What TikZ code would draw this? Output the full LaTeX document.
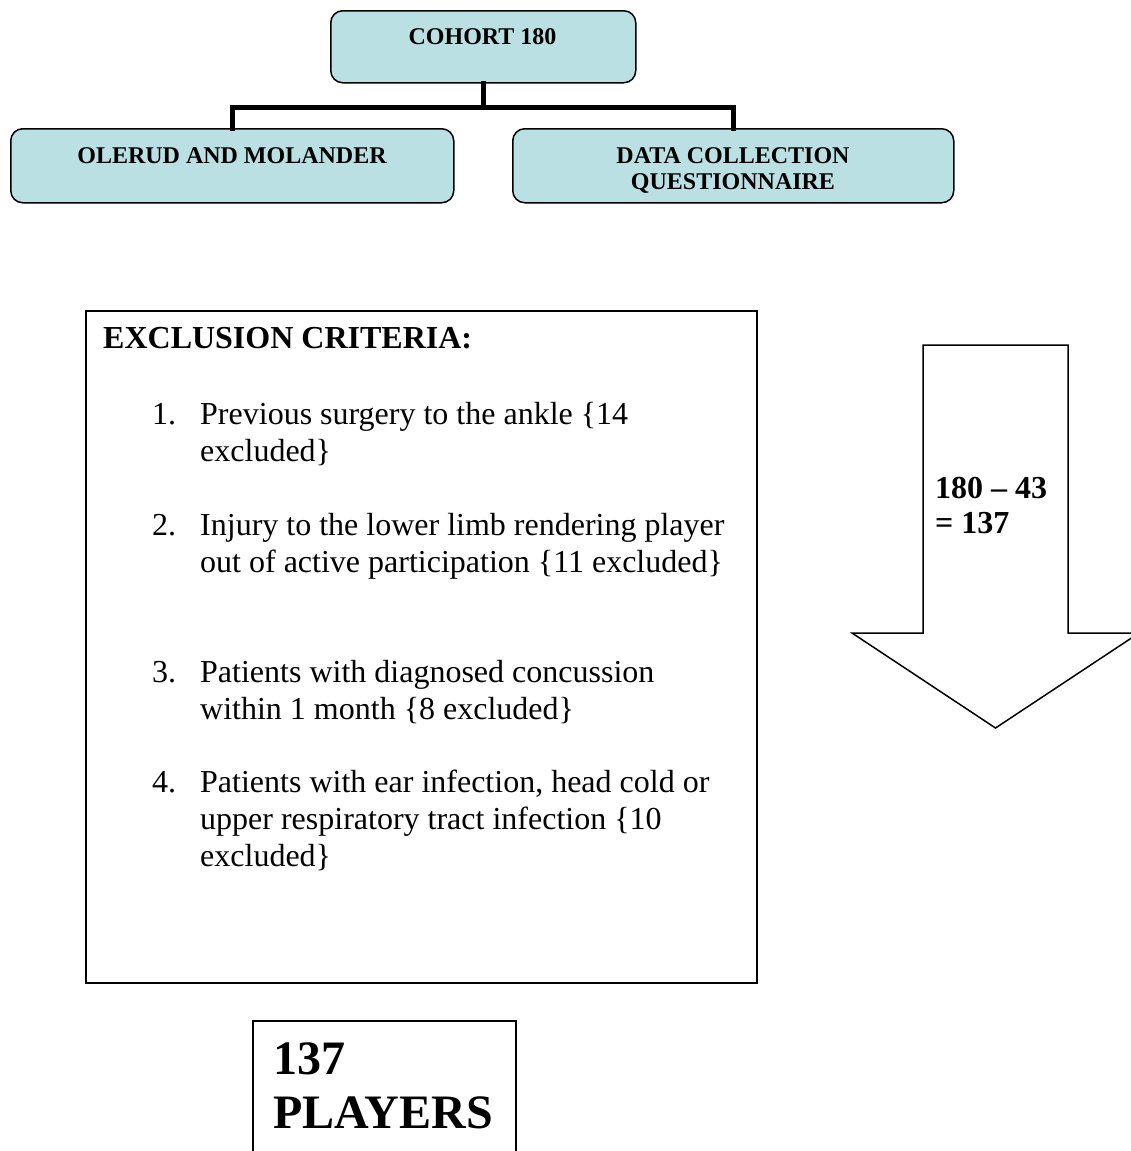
\documentclass[tikz,border=0pt]{standalone}
\usepackage{fontspec}
\setmainfont{Liberation Serif}
\definecolor{boxblue}{RGB}{187,224,227}
\tikzset{
  rbox/.style={draw=black, line width=1.5pt, fill=boxblue, rounded corners=12pt, anchor=north west, inner sep=0pt},
  conn/.style={line width=5pt, line join=miter, line cap=rect},
  plainbox/.style={draw=black, line width=1.6pt, anchor=north west, inner sep=0pt},
  toptext/.style={font=\fontsize{24}{28}\selectfont\bfseries, inner sep=0pt, anchor=base},
  listtext/.style={font=\fontsize{32}{37}\selectfont, inner sep=0pt, anchor=base west},
  headtext/.style={font=\fontsize{32}{37}\selectfont\bfseries, inner sep=0pt, anchor=base west},
  bigtext/.style={font=\fontsize{48}{55}\selectfont\bfseries, inner sep=0pt, anchor=base west}
}
\begin{document}
\begin{tikzpicture}[x=1pt, y=-1pt]
\useasboundingbox (0,0) rectangle (1131,1151);
\clip (0,0) rectangle (1131,1151);
% top boxes
\node[rbox, minimum width=305, minimum height=72] (cohort) at (330,10) {};
\node[rbox, minimum width=443, minimum height=74] (olerud) at (10,128) {};
\node[rbox, minimum width=441, minimum height=74] (data) at (512,128) {};
\node[toptext] (tcohort) at (482.5,44) {COHORT 180};
\node[toptext] (tolerud) at (232,163) {OLERUD AND MOLANDER};
\node[toptext] (tdata1) at (733,163) {DATA COLLECTION};
\node[toptext] (tdata2) at (733,189) {QUESTIONNAIRE};
% connectors
\draw[conn] (cohort.south) -- ++(0,24) coordinate (bar);
\draw[conn] (olerud.north) |- (bar) -| (data.north);
% exclusion box
\node[plainbox, minimum width=671, minimum height=672] (excl) at (85,310) {};
\node[headtext] (head) at (103,348) {EXCLUSION CRITERIA:};
\node[listtext] (n1) at (152,424) {1.};
\node[listtext] (l1a) at (200,424) {Previous surgery to the ankle \{14};
\node[listtext] (l1b) at (200,461) {excluded\}};
\node[listtext] (n2) at (152,535) {2.};
\node[listtext] (l2a) at (200,535) {Injury to the lower limb rendering player};
\node[listtext] (l2b) at (200,572) {out of active participation \{11 excluded\}};
\node[listtext] (n3) at (152,682) {3.};
\node[listtext] (l3a) at (200,682) {Patients with diagnosed concussion};
\node[listtext] (l3b) at (200,719) {within 1 month \{8 excluded\}};
\node[listtext] (n4) at (152,792) {4.};
\node[listtext] (l4a) at (200,792) {Patients with ear infection, head cold or};
\node[listtext] (l4b) at (200,829) {upper respiratory tract infection \{10};
\node[listtext] (l4c) at (200,866) {excluded\}};
% arrow
\draw[line width=1.5pt, line join=miter, fill=white]
  (923,345) -- (1068,345) -- (1068,633) -- (1139,633) -- (995.5,728)
  -- (852,633) -- (923,633) -- cycle;
\node[headtext] (a1) at (935,498) {180 -- 43};
\node[headtext] (a2) at (935,533) {= 137};
% bottom box
\node[plainbox, minimum width=263, minimum height=160] (players) at (252,1020) {};
\node[bigtext] (p1) at (273,1074) {137};
\node[bigtext] (p2) at (273,1128) {PLAYERS};
\end{tikzpicture}
\end{document}
